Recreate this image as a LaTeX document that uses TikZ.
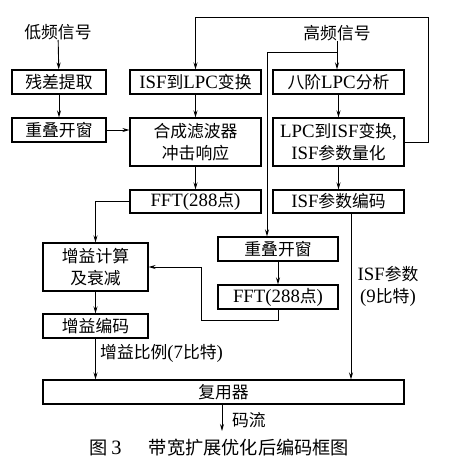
\documentclass[tikz,border=0pt]{standalone}
\usepackage{fontspec}
\setmainfont{Noto Sans CJK SC}
\newfontfamily\lat[Scale=1.12]{Liberation Serif}
\usetikzlibrary{arrows.meta}
\tikzset{
  x=1pt,y=-1pt,
  txt/.style={font=\fontsize{16.8}{22}\selectfont, inner sep=0pt, align=center},
  box/.style={txt, draw, line width=1.1pt, minimum height=24pt},
  arr/.style={line width=0.9pt, -{Stealth[length=7pt,width=4pt]}},
  ln/.style={line width=0.9pt}
}
\begin{document}
\begin{tikzpicture}
\useasboundingbox (0,0) rectangle (456,467);
% text inputs
\node[txt] (lo) at (58,32) {低频信号};
\node[txt] (hi) at (337,33) {高频信号};
% left column
\node[box, minimum width=94pt] (cz) at (59,82) {残差提取};
\node[box, minimum width=94pt] (ol) at (59,130) {重叠开窗};
% middle column
\node[box, minimum width=131pt] (il) at (195.5,82) {{\lat ISF}到{\lat LPC}变换};
\node[box, minimum width=131pt, minimum height=48pt] (hc) at (195.5,142) {合成滤波器\\冲击响应};
\node[box, minimum width=131pt, minimum height=23pt] (f1) at (195.5,201.5) {{\lat FFT(288}点{\lat )}};
% right column
\node[box, minimum width=131pt] (lp) at (338.5,82) {八阶{\lat LPC}分析};
\node[box, minimum width=131pt, minimum height=48pt] (li) at (338.5,142) {{\lat LPC}到{\lat ISF}变换{\lat ,}\\{\lat ISF}参数量化};
\node[box, minimum width=131pt, minimum height=23pt] (ie) at (338.5,201.5) {{\lat ISF}参数编码};
% lower
\node[box, minimum width=120pt] (or) at (278,249) {重叠开窗};
\node[box, minimum width=120pt] (f2) at (278,297) {{\lat FFT(288}点{\lat )}};
\node[box, minimum width=105pt, minimum height=48pt] (gc) at (95.5,267) {增益计算\\及衰减};
\node[box, minimum width=105pt] (ge) at (95.5,326) {增益编码};
\node[box, minimum width=361pt] (mux) at (223.5,392) {复用器};
% labels
\node[txt, anchor=west] (lg) at (100,353) {增益比例{\lat (7}比特{\lat )}};
\node[txt] (lisf) at (388,286) {{\lat ISF}参数\\{\lat (9}比特{\lat )}};
\node[txt, anchor=west] (lms) at (232,420) {码流};
\node[txt, anchor=west, font=\fontsize{18.2}{22}\selectfont] (cap) at (89,448) {图 {\lat 3}\hspace{1.5em}带宽扩展优化后编码框图};
% coordinates
\coordinate (fb) at (428,17);
\coordinate (br) at (337,52);
\coordinate (br2) at (267,52);
\coordinate (c1) at (201,320);
\coordinate (out) at (222,431);
% connectors
\draw[arr] (lo) -- (cz);
\draw[arr] (cz) -- (ol);
\draw[arr] (ol.east) -- (ol.east -| hc.west);
\draw[arr] (il) -- (hc);
\draw[arr] (hc) -- (f1);
\draw[arr] (li.east) -| (fb) -| (il.north);
\draw[arr] (hi.south -| br) -- (br |- lp.north);
\draw[ln] (br) -- (br2);
\draw[arr] (br2) -- (br2 |- or.north);
\draw[arr] (lp) -- (li);
\draw[arr] (li) -- (ie);
\draw[arr] (or) -- (f2);
\draw[arr] (f2.south) |- (c1) |- (gc.east);
\draw[arr] (f1.west) -| (gc.north);
\draw[arr] (gc) -- (ge);
\draw[arr] (ge) -- (ge.south |- mux.north);
\draw[arr] ([xshift=12.5pt]ie.south) -- ([xshift=12.5pt]ie.south |- mux.north);
\draw[arr] (mux.south -| out) -- (out);
\end{tikzpicture}
\end{document}
